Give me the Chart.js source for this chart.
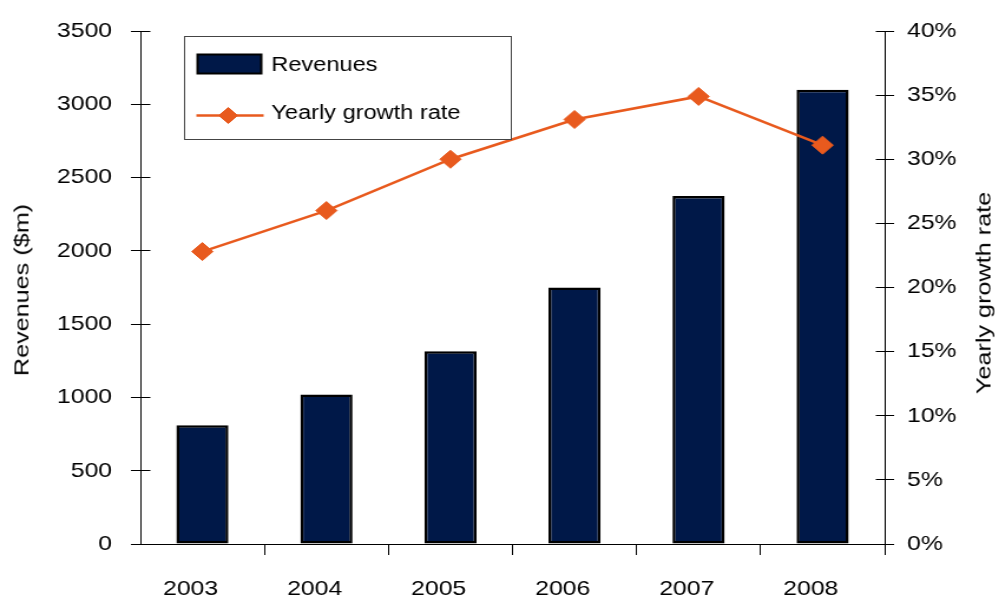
<!DOCTYPE html>
<html>
<head>
<meta charset="utf-8">
<title>Revenues and yearly growth rate</title>
<script src="https://cdn.jsdelivr.net/npm/chart.js@4.4.1/dist/chart.umd.min.js"></script>
<style>
  html, body { margin: 0; padding: 0; background: #fff; overflow: hidden; }
  #stage { position: relative; width: 999px; height: 600px; }
  /* the whole plot is drawn narrow and widened, which gives the wide lettering */
  #wrap {
    position: absolute; left: 0; top: 0;
    width: 847px; height: 600px;
    transform: scaleX(1.1795); transform-origin: 0 0;
  }
  .axis-title {
    position: absolute;
    font-family: "Liberation Sans", Arial, sans-serif;
    font-size: 21px; line-height: 21px;
    color: #000; white-space: nowrap;
    transform: translate(-50%, -50%) rotate(-90deg) scaleX(1.2);
  }
</style>
</head>
<body>
<div id="stage">
  <div id="wrap"><canvas id="chart" width="847" height="600"></canvas></div>
  <div class="axis-title" style="left:20.5px; top:290px;">Revenues ($m)</div>
  <div class="axis-title" style="left:983px; top:293px;">Yearly growth rate</div>
</div>
<script>
/* ── Data ─────────────────────────────────────────────────────────────── */

var years       = ['2003', '2004', '2005', '2006', '2007', '2008'];
var revenues    = [810, 1020, 1315, 1750, 2375, 3100];      // $m
var growthRate  = [22.8, 26.0, 30.0, 33.1, 34.9, 31.1];     // %

var revenueMax  = 3500, revenueStep = 500;
var growthMax   = 40,   growthStep  = 5;

/* ── Styles ───────────────────────────────────────────────────────────── */

var NAVY   = '#001848';
var ORANGE = '#E85A1E';
var FONT   = '"Liberation Sans", Arial, sans-serif';
var TICK   = 8;     // tick mark length on each side of the value axes

function _align(px) {
  return Math.round(px - 0.5) + 0.5;
}

/* ── Plugins ──────────────────────────────────────────────────────────── */

// Value-axis ticks cross the axis line: Chart.js draws the outer half,
// this draws the inner half.
var innerTicks = {
  id: 'innerTicks',
  afterDraw: function (chart) {
    var ctx  = chart.ctx;
    var area = chart.chartArea;
    ctx.save();
    ctx.strokeStyle = '#000';
    ctx.lineWidth = 1;
    [['y', area.left, 1], ['y1', area.right, -1]].forEach(function (s) {
      var scale = chart.scales[s[0]];
      var x = _align(s[1]);
      scale.ticks.forEach(function (t) {
        var py = _align(scale.getPixelForValue(t.value));
        ctx.beginPath();
        ctx.moveTo(x, py);
        ctx.lineTo(x + s[2] * TICK, py);
        ctx.stroke();
      });
    });
    ctx.restore();
  }
};

// Boxed legend in the top-left corner of the plot area
var boxLegend = {
  id: 'boxLegend',
  afterDraw: function (chart) {
    var ctx  = chart.ctx;
    var area = chart.chartArea;
    var bx = Math.round(area.left + 36.5) + 0.5;
    var by = Math.round(area.top + 4.5) + 0.5;
    var bw = 277, bh = 103;
    var ds = chart.data.datasets;
    var bar  = ds.filter(function (d) { return d.type === 'bar'; })[0];
    var line = ds.filter(function (d) { return d.type === 'line'; })[0];

    ctx.save();
    ctx.fillStyle = '#fff';
    ctx.strokeStyle = '#444';
    ctx.lineWidth = 1;
    ctx.fillRect(bx, by, bw, bh);
    ctx.strokeRect(bx, by, bw, bh);

    // bar swatch
    ctx.fillStyle = bar.backgroundColor;
    ctx.strokeStyle = bar.borderColor;
    ctx.lineWidth = 2;
    ctx.fillRect(bx + 11, by + 18, 54, 19);
    ctx.strokeRect(bx + 11, by + 18, 54, 19);

    // line swatch with marker
    var ly = by + 79;
    ctx.strokeStyle = line.borderColor;
    ctx.lineWidth = 2.5;
    ctx.beginPath();
    ctx.moveTo(bx + 10, ly);
    ctx.lineTo(bx + 67, ly);
    ctx.stroke();
    ctx.fillStyle = line.pointBackgroundColor;
    ctx.lineWidth = 1;
    Chart.helpers.drawPoint(ctx, { pointStyle: 'rectRot', radius: 8, rotation: 0, borderWidth: 1 }, bx + 37, ly);

    ctx.fillStyle = '#000';
    ctx.font = '20px ' + FONT;
    ctx.textBaseline = 'alphabetic';
    ctx.textAlign = 'left';
    ctx.fillText(bar.label,  bx + 73.5, by + 34);
    ctx.fillText(line.label, bx + 73.5, by + 82);
    ctx.restore();
  }
};

/* ── Chart ────────────────────────────────────────────────────────────── */

new Chart(document.getElementById('chart'), {
  data: {
    labels: years,
    datasets: [
      {
        type:                 'line',
        label:                'Yearly growth rate',
        data:                 growthRate,
        yAxisID:              'y1',
        order:                0,
        borderColor:          ORANGE,
        borderWidth:          2.5,
        tension:              0,
        pointStyle:           'rectRot',
        pointRadius:          9,
        pointBackgroundColor: ORANGE,
        pointBorderColor:     ORANGE,
        pointBorderWidth:     1,
      },
      {
        type:               'bar',
        label:              'Revenues',
        data:               revenues,
        yAxisID:            'y',
        order:              1,
        backgroundColor:    NAVY,
        borderColor:        '#000',
        borderWidth:        2.5,
        borderSkipped:      false,
        barPercentage:      0.42,
        categoryPercentage: 1,
      },
    ],
  },
  options: {
    responsive: false,
    animation: false,
    devicePixelRatio: 1,
    layout: { padding: { top: 31, left: 0, right: 0, bottom: 0 } },
    plugins: {
      legend:  { display: false },
      tooltip: { enabled: false },
    },
    scales: {
      x: {
        offset: true,
        grid: {
          offset: true,
          drawOnChartArea: false,
          tickLength: 11,
          // no category tick below the left axis
          color: function (c) { return c.index === 0 ? 'rgba(0,0,0,0)' : '#000'; },
        },
        border: { display: true, color: '#000', width: 1 },
        ticks: {
          color: '#000',
          font: { family: FONT, size: 21 },
          padding: 22,
          labelOffset: -10,
          maxRotation: 0,
        },
        afterFit: function (s) { s.height = 56; },
      },
      y: {
        position: 'left',
        min: 0,
        max: revenueMax,
        ticks: {
          stepSize: revenueStep,
          color: '#000',
          font: { family: FONT, size: 21 },
          padding: 16,
          callback: function (v) { return String(v); },
        },
        grid: { drawOnChartArea: false, tickLength: TICK, color: '#000' },
        border: { display: true, color: '#000', width: 1 },
        afterFit: function (s) { s.width = 119; },
      },
      y1: {
        position: 'right',
        min: 0,
        max: growthMax,
        ticks: {
          stepSize: growthStep,
          color: '#000',
          font: { family: FONT, size: 21 },
          padding: 11,
          callback: function (v) { return v + '%'; },
        },
        grid: { drawOnChartArea: false, tickLength: TICK, color: '#000' },
        border: { display: true, color: '#000', width: 1 },
        afterFit: function (s) { s.width = 97; },
      },
    },
  },
  plugins: [innerTicks, boxLegend],
});
</script>
</body>
</html>
